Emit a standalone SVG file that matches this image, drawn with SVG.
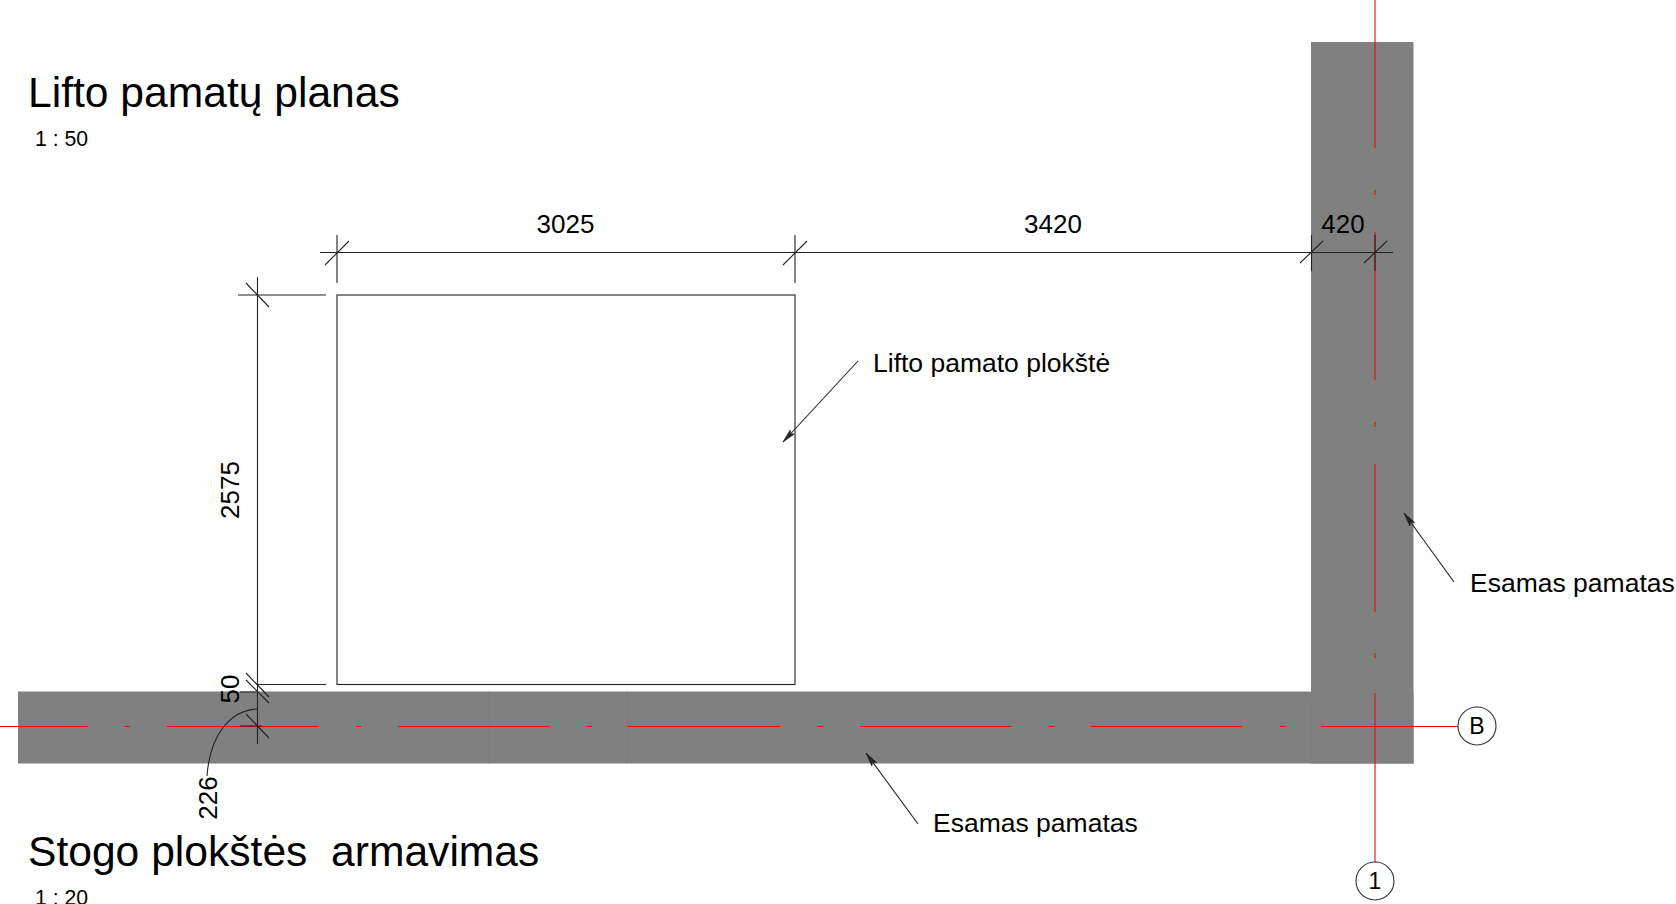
<svg xmlns="http://www.w3.org/2000/svg" width="1676" height="904" viewBox="0 0 1676 904">
<style>
text{font-family:"Liberation Sans",Arial,sans-serif;fill:#000}
.title{font-size:42.600px;white-space:pre}.scale{font-size:21.200px}.dim{font-size:26px}.note{font-size:26.500px}.tag{font-size:23px}
.l{stroke:#222;stroke-width:1.100;fill:none}
.red{stroke:#f00;stroke-width:1.100;fill:none}
.wall{fill:#808080}
.seam{stroke:#7c7c7c;stroke-width:1;fill:none}
</style>
<defs>
<marker id="arrow" markerUnits="userSpaceOnUse" markerWidth="16" markerHeight="10" refX="14" refY="5" orient="auto">
<path d="M0 2L14 5L0 8L3 5Z" fill="#222" stroke="#222" stroke-width="0.600"/>
</marker>
</defs>
<g id="walls">
<rect class="wall" x="18" y="691.500" width="1395.500" height="72"/>
<rect class="wall" x="1311" y="42" width="102.500" height="721.500"/>
<path class="seam" d="M489 691.500V763.500M627 691.500V763.500M1311 700V763.500"/>
</g>
<g id="plate"><rect x="337" y="295" width="458" height="389.500" fill="#fff" stroke="#222" stroke-width="1.100"/></g>
<g id="grid">
<path class="red" d="M0 726.500H88M125 726.500H130M167 726.500H318M356 726.500H361M398 726.500H549M587 726.500H592M628 726.500H780M818 726.500H823M860 726.500H1011M1049 726.500H1054M1091 726.500H1242M1280 726.500H1285M1321 726.500H1458"/>
<path class="red" d="M1375 0V148M1375 190V195M1375 232V380M1375 422V427M1375 464V612M1375 653V658M1375 693V862"/>
<g id="grid-b"><circle cx="1477" cy="726" r="19" fill="#fff" stroke="#333" stroke-width="1.100"/><text class="tag" x="1477" y="734" text-anchor="middle">B</text></g>
<g id="grid-1"><circle cx="1375" cy="881" r="19" fill="#fff" stroke="#333" stroke-width="1.100"/><text class="tag" x="1375" y="889" text-anchor="middle">1</text></g>
</g>
<g id="connectors">
<path class="l" d="M320 252.500H1393"/>
<path class="l" d="M337 235V283M795 235V283M1311.500 235V271M1375 235V271"/>
<path class="l" d="M325 265L349 241M783 265L807 241M1300 263L1323 241M1364 263L1387 241"/>
<path class="l" d="M257.500 277V744"/>
<path class="l" d="M238 295H326M257 684.500H326M240 692H257.500M240 726H262"/>
<path class="l" d="M246 283L269 307M246 673L269 697M246 680L269 703M246 714L269 738"/>
<path class="l" d="M257.500 709C230 710 210 735 207 776"/>
<path class="l" marker-end="url(#arrow)" d="M858 361L783 442"/>
<path class="l" marker-end="url(#arrow)" d="M1454 582L1404 513"/>
<path class="l" marker-end="url(#arrow)" d="M918 824L866 753"/>
</g>
<g id="labels">
<text class="title" x="28" y="107">Lifto pamatų planas</text>
<text class="scale" x="35" y="146">1 : 50</text>
<text class="title" x="28" y="866" xml:space="preserve">Stogo plokštės  armavimas</text>
<text class="scale" x="35" y="905">1 : 20</text>
<text class="dim" x="565.500" y="233" text-anchor="middle">3025</text>
<text class="dim" x="1053" y="233" text-anchor="middle">3420</text>
<text class="dim" x="1343" y="233" text-anchor="middle">420</text>
<text class="dim" transform="translate(239 490) rotate(-90)" text-anchor="middle">2575</text>
<text class="dim" transform="translate(239 689) rotate(-90)" text-anchor="middle">50</text>
<text class="dim" transform="translate(217 798) rotate(-90)" text-anchor="middle">226</text>
<text class="note" x="873" y="372">Lifto pamato plokštė</text>
<text class="note" x="1470" y="592">Esamas pamatas</text>
<text class="note" x="933" y="832">Esamas pamatas</text>
</g>
</svg>
